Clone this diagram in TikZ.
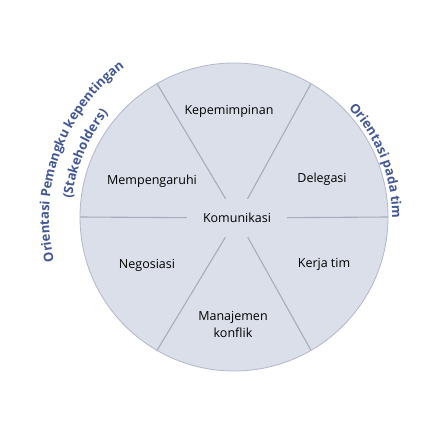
\documentclass[tikz,border=0pt]{standalone}
\usepackage{fontspec}
\setmainfont{Open Sans}
\usetikzlibrary{decorations.text}
\definecolor{discfill}{RGB}{219,223,234}
\definecolor{discedge}{RGB}{178,183,202}
\definecolor{spokecol}{RGB}{168,171,188}
\definecolor{arcblue}{RGB}{66,88,150}

\begin{document}
\begin{tikzpicture}[x=1pt,y=1pt,
  seglabel/.style={font=\fontsize{12.5}{17}\selectfont, align=center},
  spoke/.style={spokecol, line width=1.1pt},
  arctext/.style={decorate, decoration={text along path, text align=center, text color=arcblue}}]
  \useasboundingbox (0,0) rectangle (433,421);
  \coordinate (C) at (234,204);
  \fill[discfill] (C) circle[radius=154];
  % centre and spokes
  \node[seglabel, minimum width=100pt, minimum height=38pt] (kom) at (237,203) {Komunikasi};
  \foreach \a in {0,60,...,300} {
    \coordinate (rim\a) at ([shift={(C)}]\a:154);
    \draw[spoke] (kom) -- (rim\a);
  }
  \draw[discedge, line width=0.8pt] (C) circle[radius=154];
  % segment labels
  \node[seglabel] (kep) at (229,310) {Kepemimpinan};
  \node[seglabel] (mem) at (152,240) {Mempengaruhi};
  \node[seglabel] (del) at (322,242) {Delegasi};
  \node[seglabel] (neg) at (147,156) {Negosiasi};
  \node[seglabel] (ker) at (324,157) {Kerja tim};
  \node[seglabel] (man) at (233,97) {Manajemen\\konflik};
  % curved captions
  \path[arctext, decoration={text={|\fontsize{13}{15}\selectfont\bfseries|Orientasi Pemangku kepentingan}}]
    ([shift={(C)}]205:185) arc[start angle=205, end angle=115, radius=185];
  \path[arctext, decoration={text={|\fontsize{13}{15}\selectfont\bfseries|(Stakeholders)}}]
    ([shift={(C)}]186:163) arc[start angle=186, end angle=128, radius=163];
  \path[arctext, decoration={text={|\fontsize{13}{15}\selectfont\bfseries|Orientasi pada tim}}]
    ([shift={(C)}]60:158) arc[start angle=60, end angle=-17, radius=158];
\end{tikzpicture}
\end{document}
